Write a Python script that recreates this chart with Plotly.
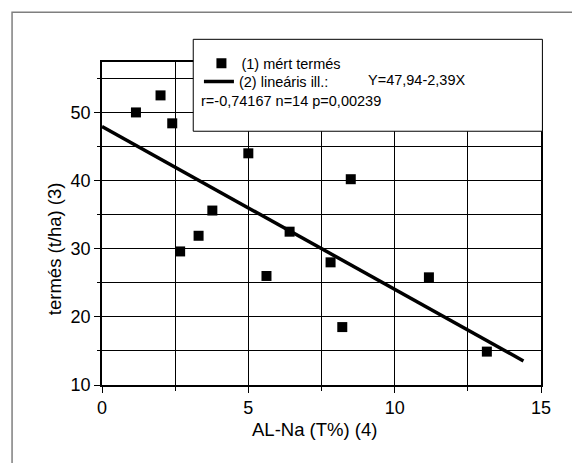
import plotly.graph_objects as go

# ---- data ----
al_na = [1.16, 2.0, 2.40, 2.67, 3.30, 3.77, 5.0, 5.62, 6.41, 7.81, 8.21, 8.50, 11.17, 13.15]
termes = [50.0, 52.5, 48.4, 29.6, 31.9, 35.6, 44.0, 26.0, 32.5, 28.0, 18.5, 40.2, 25.8, 14.9]
fit_x = [0.0, 14.4]
fit_y = [47.94, 13.53]

x_ticks = [0, 5, 10, 15]
y_ticks = [10, 20, 30, 40, 50]

name_points = "(1) mért termés"
name_fit = "(2) lineáris ill.:"
equation = "Y=47,94-2,39X"
stats = "r=-0,74167 n=14 p=0,00239"
x_title = "AL-Na (T%) (4)"
y_title = "termés (t/ha) (3)"

# ---- layout geometry (pixels) ----
W, H = 572, 463
L, R, T, B = 102, 541.3, 61.7, 385.0
PW, PH = R - L, B - T


def px(x):
    return (x - L) / PW


def py(y):
    return (B - y) / PH


FONT = "Liberation Sans, Arial, Helvetica, sans-serif"
LEG_FONT = dict(family=FONT, size=14.5, color="black")

fig = go.Figure()
fig.add_trace(go.Scatter(
    x=al_na, y=termes, mode="markers", name=name_points, legend="legend",
    marker=dict(symbol="square", size=10, color="black", line=dict(width=0)),
))
fig.add_trace(go.Scatter(
    x=fit_x, y=fit_y, mode="lines", name=name_fit, legend="legend2",
    line=dict(color="black", width=3.5),
))

axis_common = dict(
    showline=True, linecolor="black", linewidth=1.5, mirror=True,
    showgrid=True, gridcolor="black", gridwidth=1,
    ticks="outside", tickcolor="black", ticklen=6, tickwidth=1,
    tickfont=dict(family=FONT, size=18, color="black"),
    zeroline=False,
)

fig.update_xaxes(
    range=[0, 15], tickmode="array", tickvals=x_ticks,
    minor=dict(dtick=2.5, tick0=0, showgrid=True, gridcolor="black", gridwidth=1,
               ticks="outside", ticklen=4, tickcolor="black"),
    **axis_common,
)
fig.update_yaxes(
    range=[10, 57.4], tickmode="array", tickvals=y_ticks,
    minor=dict(dtick=5, tick0=10, showgrid=True, gridcolor="black", gridwidth=1,
               ticks="outside", ticklen=3, tickcolor="black"),
    **axis_common,
)

shapes = [
    # outer frame (extends past right and bottom edges)
    dict(type="rect", xref="paper", yref="paper",
         x0=px(12), x1=px(700), y0=py(700), y1=py(12),
         line=dict(color="#7f7f7f", width=1.5), fillcolor="rgba(0,0,0,0)", layer="below"),
    # legend box
    dict(type="rect", xref="paper", yref="paper",
         x0=px(193.3), x1=px(542.7), y0=py(131), y1=py(39),
         line=dict(color="black", width=1), fillcolor="white", layer="above"),
]

annotations = [
    dict(text=equation, xref="paper", yref="paper", x=px(366), y=py(80),
         xanchor="left", yanchor="middle", showarrow=False,
         font=dict(family=FONT, size=14.5, color="black")),
    dict(text=stats, xref="paper", yref="paper", x=px(199), y=py(100.7),
         xanchor="left", yanchor="middle", showarrow=False,
         font=dict(family=FONT, size=14.5, color="black")),
    dict(text=x_title, xref="paper", yref="paper", x=px(315), y=py(430),
         xanchor="center", yanchor="middle", showarrow=False,
         font=dict(family=FONT, size=18.5, color="black")),
    dict(text=y_title, xref="paper", yref="paper", x=px(54), y=py(249),
         xanchor="center", yanchor="middle", showarrow=False, textangle=-90,
         font=dict(family=FONT, size=18.5, color="black")),
]

fig.update_layout(
    width=W, height=H,
    margin=dict(l=L, r=W - R, t=T, b=H - B, pad=0),
    paper_bgcolor="white", plot_bgcolor="white",
    font=dict(family=FONT, color="black"),
    showlegend=True,
    legend=dict(
        x=px(201.5), y=py(47), xanchor="left", yanchor="top",
        bgcolor="rgba(0,0,0,0)", borderwidth=0, font=LEG_FONT,
        itemsizing="trace",
    ),
    legend2=dict(
        x=px(199), y=py(65.3), xanchor="left", yanchor="top",
        bgcolor="rgba(0,0,0,0)", borderwidth=0, font=LEG_FONT,
        itemsizing="trace",
    ),
    shapes=shapes,
    annotations=annotations,
)

fig.write_html(
    "out.html",
    config={"displayModeBar": False},
    post_script="document.body.style.margin='0';document.body.style.overflow='hidden';",
)
